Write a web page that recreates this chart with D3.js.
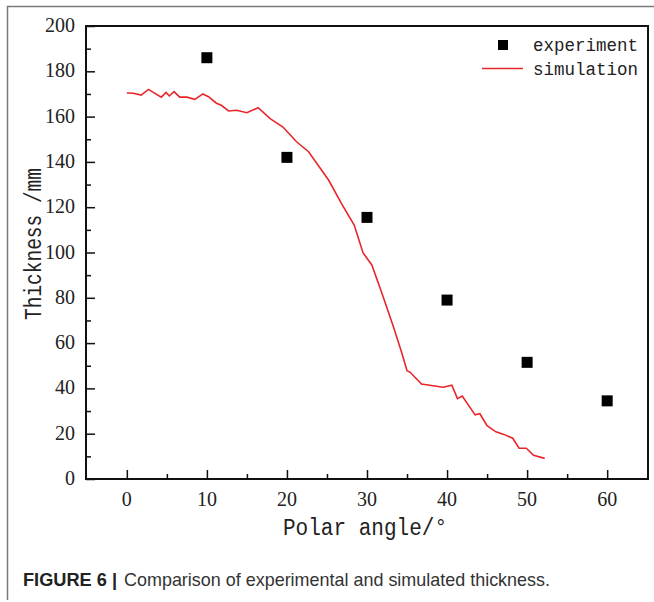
<!DOCTYPE html>
<html>
<head>
<meta charset="utf-8">
<title>Thickness comparison</title>
<script src="https://d3js.org/d3.v7.min.js"></script>
<style>
  body { margin: 0; background: #fff; }
  svg { display: block; }
</style>
</head>
<body>
<div id="chart"></div>
<script>
// experiment points
const expAngle = [10, 20, 30, 40, 50, 60];
const expThick = [186, 142, 115.5, 79, 51.5, 34.5];

// simulation curve
const simAngle = [0, 0.8, 1.8, 2.7, 4.3, 4.9, 5.3, 5.9, 6.6, 7.5, 8.5, 9.5, 10.2, 11.2, 11.8, 12.7, 13.7, 15, 16.4,
  17.9, 19.5, 21.2, 22.7, 25.2, 26.8, 28.4, 29.5, 30.6, 31.8, 33.3, 34.3, 35, 35.4, 36.8, 39.5, 40.6, 41.3, 41.9,
  43.5, 44.1, 45, 46.1, 47.1, 48.2, 49, 49.9, 50.8, 52.2];
const simThick = [170.4, 170.3, 169.5, 172, 168.6, 170.7, 169.1, 171, 168.6, 168.6, 167.6, 170, 168.8, 165.9, 165, 162.5, 162.8, 161.7, 163.9,
  159.1, 155.4, 148.9, 144.5, 132, 121.7, 112.1, 99.9, 94.5, 82.7, 67.2, 56.2, 47.8, 47.1, 41.9, 40.5, 41.4, 35.5, 36.6,
  28.3, 28.8, 23.5, 20.8, 19.7, 18, 13.6, 13.6, 10.5, 9.1];

const xTicks = [0, 10, 20, 30, 40, 50, 60];
const yTicks = [0, 20, 40, 60, 80, 100, 120, 140, 160, 180, 200];

const W = 654, H = 602;
const pLeft = 86, pTop = 26, pRight = 648, pBottom = 479;

const svg = d3.select("#chart").append("svg")
  .attr("width", W).attr("height", H);

// outer figure frame
svg.append("path")
  .attr("d", `M7.5,600 L7.5,6.5 L${W + 5},6.5`)
  .attr("fill", "none").attr("stroke", "#7a7a7a").attr("stroke-width", 1.5);

const x = d3.scaleLinear().domain([-5.1, 65.1]).range([pLeft, pRight]);
const y = d3.scaleLinear().domain([0, 200]).range([pBottom, pTop]);

const axisFont = "'Liberation Serif', 'DejaVu Serif', serif";
const monoFont = "'Liberation Mono', 'DejaVu Sans Mono', monospace";

// frame of the plot
svg.append("rect")
  .attr("x", pLeft).attr("y", pTop)
  .attr("width", pRight - pLeft).attr("height", pBottom - pTop)
  .attr("fill", "none").attr("stroke", "#111").attr("stroke-width", 2);

// x axis (ticks inward)
const xAxis = svg.append("g").attr("transform", `translate(0,${pBottom})`);
xAxis.call(d3.axisBottom(x).tickValues(d3.range(0, 61, 5)).tickSize(-8).tickFormat(""))
  .call(g => g.select(".domain").remove());
xAxis.selectAll(".tick line")
  .attr("y2", d => d % 10 === 0 ? -9 : -5)
  .attr("stroke", "#111").attr("stroke-width", 1.5);
xAxis.selectAll(".lbl").data(xTicks).enter().append("text")
  .attr("x", d => x(d)).attr("y", 27)
  .attr("text-anchor", "middle")
  .attr("font-family", axisFont).attr("font-size", 20).attr("fill", "#222")
  .text(d => d);

// y axis (ticks inward)
const yAxis = svg.append("g").attr("transform", `translate(${pLeft},0)`);
yAxis.call(d3.axisLeft(y).tickValues(d3.range(0, 201, 10)).tickSize(-8).tickFormat(""))
  .call(g => g.select(".domain").remove());
yAxis.selectAll(".tick line")
  .attr("x2", d => d % 20 === 0 ? 9 : 5)
  .attr("stroke", "#111").attr("stroke-width", 1.5);
yAxis.selectAll(".lbl").data(yTicks).enter().append("text")
  .attr("x", -11).attr("y", d => y(d) + 6)
  .attr("text-anchor", "end")
  .attr("font-family", axisFont).attr("font-size", 20).attr("fill", "#222")
  .text(d => d);

// axis titles
svg.append("text")
  .attr("x", 283).attr("y", 535)
  .attr("font-family", monoFont).attr("font-size", 23).attr("fill", "#222")
  .attr("textLength", 164).attr("lengthAdjust", "spacingAndGlyphs")
  .text("Polar angle/°");

svg.append("text")
  .attr("transform", "translate(41,320) rotate(-90)")
  .attr("font-family", monoFont).attr("font-size", 23).attr("fill", "#222")
  .attr("textLength", 152).attr("lengthAdjust", "spacingAndGlyphs")
  .text("Thickness /mm");

// simulation line
const sim = simAngle.map((a, i) => [a, simThick[i]]);
svg.append("path")
  .datum(sim)
  .attr("fill", "none")
  .attr("stroke", "#e8262a")
  .attr("stroke-width", 1.6)
  .attr("d", d3.line().x(d => x(d[0])).y(d => y(d[1])));

// experiment squares
const sq = 11;
svg.selectAll(".exp").data(expAngle).enter().append("rect")
  .attr("x", d => x(d) - sq / 2)
  .attr("y", (d, i) => y(expThick[i]) - sq / 2)
  .attr("width", sq).attr("height", sq)
  .attr("fill", "#000");

// legend
const lg = svg.append("g");
lg.append("rect").attr("x", 498).attr("y", 40).attr("width", 10).attr("height", 10).attr("fill", "#000");
lg.append("line").attr("x1", 482).attr("x2", 523).attr("y1", 68.5).attr("y2", 68.5)
  .attr("stroke", "#e8262a").attr("stroke-width", 1.6);
lg.append("text").attr("x", 533).attr("y", 51)
  .attr("font-family", monoFont).attr("font-size", 19).attr("fill", "#222")
  .attr("textLength", 105).attr("lengthAdjust", "spacingAndGlyphs").text("experiment");
lg.append("text").attr("x", 533).attr("y", 75)
  .attr("font-family", monoFont).attr("font-size", 19).attr("fill", "#222")
  .attr("textLength", 105).attr("lengthAdjust", "spacingAndGlyphs").text("simulation");

// caption
const capFont = "'Liberation Sans', Arial, sans-serif";
svg.append("text")
  .attr("x", 23).attr("y", 586)
  .attr("font-family", capFont).attr("font-size", 19).attr("font-weight", "bold").attr("fill", "#222")
  .attr("textLength", 94).attr("lengthAdjust", "spacingAndGlyphs")
  .text("FIGURE 6 |");
svg.append("text")
  .attr("x", 124).attr("y", 586)
  .attr("font-family", capFont).attr("font-size", 18.5).attr("fill", "#333")
  .attr("textLength", 426).attr("lengthAdjust", "spacingAndGlyphs")
  .text("Comparison of experimental and simulated thickness.");
</script>
</body>
</html>
